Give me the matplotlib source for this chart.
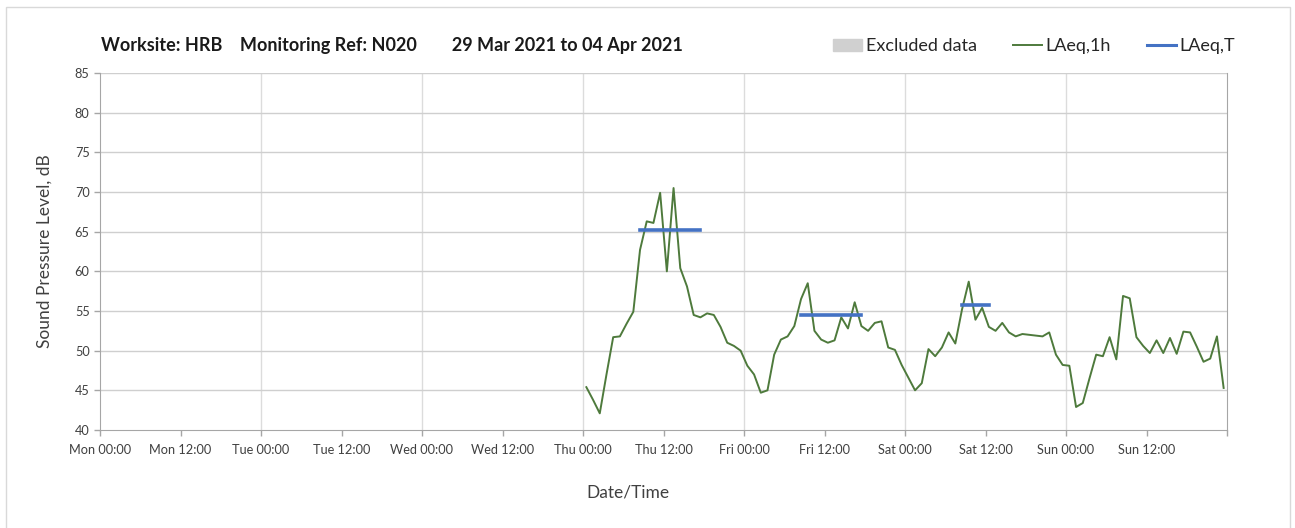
import matplotlib.pyplot as plt
import matplotlib.patches as mpatches
from matplotlib.lines import Line2D
import numpy as np

plt.rcParams['font.family'] = ['Lato', 'DejaVu Sans']

# hourly LAeq,1h values, first point Thu 00:30 (hours from Mon 00:00)
start_hour = 72.5
laeq_1h = [45.4, 43.8, 42.1, 47.0, 51.7, 51.8, 53.4, 54.9, 62.7, 66.3,
           66.1, 69.9, 60.0, 70.5, 60.4, 58.1, 54.5, 54.2, 54.7, 54.5,
           53.0, 51.0, 50.6, 50.0, 48.1, 47.0, 44.7, 45.0, 49.5, 51.4,
           51.8, 53.1, 56.5, 58.5, 52.5, 51.4, 51.0, 51.3, 54.2, 52.8,
           56.1, 53.1, 52.5, 53.5, 53.7, 50.4, 50.1, 48.2, 46.6, 45.0,
           45.9, 50.2, 49.3, 50.4, 52.3, 50.9, 55.2, 58.7, 53.9, 55.4,
           53.0, 52.5, 53.5, 52.3, 51.8, 52.1, 52.0, 51.9, 51.8, 52.3,
           49.5, 48.2, 48.1, 42.9, 43.4, 46.5, 49.5, 49.3, 51.7, 48.9,
           56.9, 56.6, 51.7, 50.6, 49.7, 51.3, 49.7, 51.6, 49.6, 52.4,
           52.3, 50.5, 48.6, 49.0, 51.8, 45.3]
hours = start_hour + np.arange(len(laeq_1h))

# LAeq,T periods: (start hour, end hour, level)
laeq_t_start = [80.5, 104.5, 128.5]
laeq_t_end = [89.5, 113.5, 132.5]
laeq_t_level = [65.2, 54.5, 55.7]

days = ['Mon', 'Tue', 'Wed', 'Thu', 'Fri', 'Sat', 'Sun']
tick_labels = []
for d in days:
    tick_labels += [d + ' 00:00', d + ' 12:00']

fig = plt.figure(figsize=(12.95, 5.28), dpi=100)
ax = fig.add_axes([100 / 1295, 1 - 430 / 528, 1127 / 1295, 357 / 528])

# outer chart border
fig.add_artist(mpatches.Rectangle((6 / 1295, -0.01), 1284 / 1295, 1 - 7 / 528 + 0.01,
                                  transform=fig.transFigure, fill=False,
                                  edgecolor='#d9d9d9', lw=1))

ax.plot(hours, laeq_1h, color='#4e7a3c', lw=1.4, zorder=3)
ax.hlines(laeq_t_level, laeq_t_start, laeq_t_end, color='#4472c4', lw=2.6,
          capstyle='projecting', zorder=4)

ax.set_xlim(0, 168)
ax.set_ylim(40, 85)
ax.set_xticks(np.arange(0, 169, 12))
ax.set_xticklabels(tick_labels + [''], fontsize=9.2, color='#404040')
ax.set_yticks(np.arange(40, 86, 5))
ax.set_yticklabels([str(v) for v in range(40, 86, 5)], fontsize=9.2, color='#404040')
ax.tick_params(axis='both', length=4, color='#a6a6a6', width=1)
ax.tick_params(axis='x', pad=6)

for x in range(24, 168, 24):
    ax.axvline(x, color='#dcdcdc', lw=1, zorder=1)
for y in range(45, 86, 5):
    ax.axhline(y, color='#cfcfcf', lw=1, zorder=1)

for s in ax.spines.values():
    s.set_color('#a6a6a6')
ax.spines['top'].set_visible(False)

ax.set_ylabel('Sound Pressure Level, dB', fontsize=12.5, color='#404040', labelpad=16)
fig.text(628 / 1295, 1 - 493 / 528, 'Date/Time', fontsize=12.5, color='#404040',
         ha='center', va='center')

fig.text(101 / 1295, 1 - 45 / 528, 'Worksite: HRB    Monitoring Ref: N020        29 Mar 2021 to 04 Apr 2021',
         fontsize=13, fontweight='bold', va='center', ha='left', color='#1a1a1a')

handles = [mpatches.Patch(color='#d0d0d0', label='Excluded data'),
           Line2D([], [], color='#4e7a3c', lw=1.4, label='LAeq,1h'),
           Line2D([], [], color='#4472c4', lw=2.2, label='LAeq,T')]
fig.legend(handles=handles, loc='center right', bbox_to_anchor=(1235 / 1295, 1 - 46 / 528),
           ncol=3, frameon=False, fontsize=13, handlelength=1.6, handleheight=0.65,
           handletextpad=0.2, columnspacing=2.0, labelcolor='#262626',
           borderaxespad=0, borderpad=0)

fig.savefig('out.png', dpi=100)
